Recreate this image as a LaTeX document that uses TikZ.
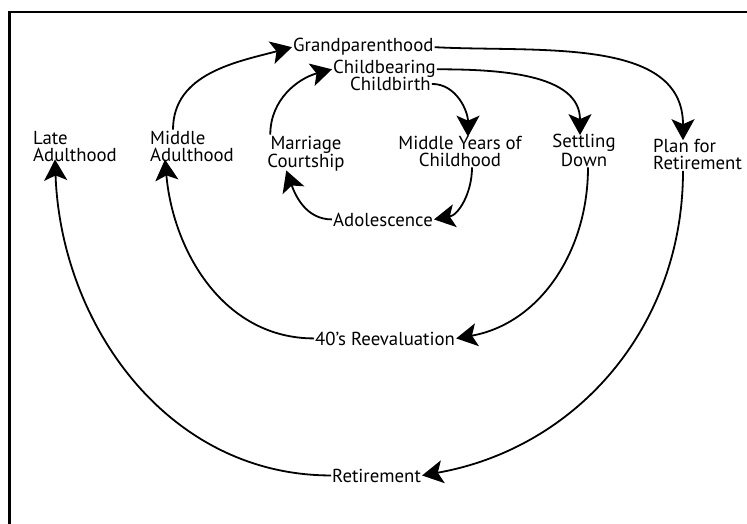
\documentclass[tikz,border=0pt]{standalone}
\usepackage{fontspec}
\setmainfont{PT Sans}
\usetikzlibrary{arrows.meta}
\begin{document}
\begin{tikzpicture}[x=1pt,y=-1pt,
  lbl/.style={inner sep=1pt, font=\fontsize{18.8}{16.8}\selectfont},
  conn/.style={line width=1.8pt, -{Stealth[length=21pt,width=23pt,inset=5pt]}}]
\useasboundingbox (0,0) rectangle (747,524);
\draw[line width=2.2pt] (747,12) -- (9.5,12) -- (9.5,524);
% nodes
\node[lbl, anchor=base west] (grand) at (292,52) {Grandparenthood};
\node[lbl, anchor=base west] (cbear) at (332,74) {Childbearing};
\node[lbl, anchor=base west] (cbirth) at (349,90.5) {Childbirth};
\node[lbl, align=left, anchor=base west] (late) at (32,161) {Late\\Adulthood};
\node[lbl, align=left, anchor=base west] (midad) at (149,161) {Middle\\Adulthood};
\node[lbl, align=center, anchor=base] (marr) at (306,167.5) {Marriage\\Courtship};
\node[lbl, align=center, anchor=base] (myc) at (460,166) {Middle Years of\\Childhood};
\node[lbl, align=center, anchor=base] (settle) at (584,166) {Settling\\Down};
\node[lbl, align=left, anchor=base west] (plan) at (652,169.5) {Plan for\\Retirement};
\node[lbl, anchor=base west] (adol) at (332,226) {Adolescence};
\node[lbl, anchor=base west] (forty) at (314,345) {40’s Reevaluation};
\node[lbl, anchor=base west] (retire) at (331,482) {Retirement};
% connectors
\draw[conn] ([xshift=24pt]midad.north west) to[out=90,in=195] (grand.west);
\draw[conn] ([xshift=4pt]marr.north west) to[out=90,in=195] (cbear.west);
\draw[conn] (adol.west) to[out=180,in=-70] ([xshift=20pt,yshift=2pt]marr.south west);
\draw[conn] (cbirth.east) to[out=0,in=90] ([xshift=8pt,yshift=-2pt]myc.north);
\draw[conn] (cbear.east) to[out=0,in=90] ([xshift=-4pt,yshift=-2pt]settle.north);
\draw[conn] (grand.east) to[out=-3,in=90] ([xshift=31pt,yshift=-2pt]plan.north west);
\draw[conn] ([xshift=12pt]myc.south) to[out=-90,in=10] (adol.east);
\draw[conn] ([xshift=4pt]settle.south) to[out=-90,in=10] (forty.east);
\draw[conn] (forty.west) to[out=180,in=-85] ([xshift=16pt,yshift=3pt]midad.south west);
\draw[conn] ([xshift=31pt]plan.south west) to[out=-90,in=10] (retire.east);
\draw[conn] (retire.west) to[out=180,in=-88] ([xshift=23pt,yshift=3pt]late.south west);
\end{tikzpicture}
\end{document}
